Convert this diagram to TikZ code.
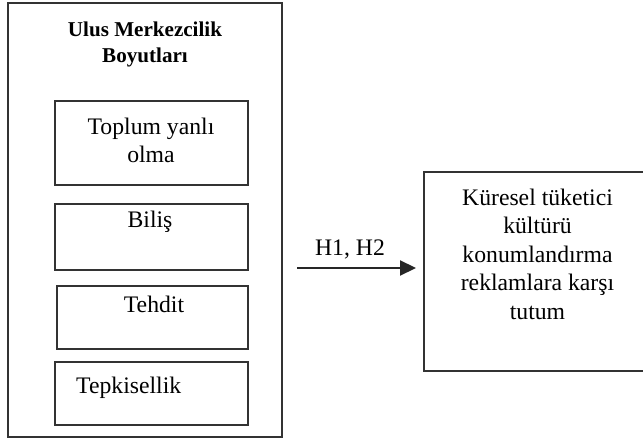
\documentclass[tikz,border=0pt]{standalone}
\usepackage{fontspec}
\setmainfont{Liberation Serif}
\usetikzlibrary{arrows.meta}
\begin{document}
\begin{tikzpicture}[x=1pt,y=-1pt,
  box/.style={draw=black!80,line width=1.5pt},
  txt/.style={font=\fontsize{23.7}{28.5}\selectfont,inner sep=0pt,anchor=base},
  ttl/.style={font=\fontsize{21.1}{26}\selectfont\bfseries,inner sep=0pt,anchor=base}]
\useasboundingbox (0,0) rectangle (643,441);
\fill[white] (0,0) rectangle (643,441);
% outer box
\draw[box] (8,3) rectangle (282,437);
\node[ttl] (title1) at (145,37) {Ulus Merkezcilik};
\node[ttl] (title2) at (145,63) {Boyutları};
% inner boxes
\draw[box] (55,101) rectangle (248,185);
\node[txt] (t1a) at (151,135) {Toplum yanlı};
\node[txt] (t1b) at (151,163) {olma};
\draw[box] (55,204) rectangle (248,270);
\node[txt] (t2) at (150,227) {Biliş};
\draw[box] (57,286) rectangle (248,349);
\node[txt] (t3) at (154,312) {Tehdit};
\draw[box] (55,362) rectangle (248,425);
\node[txt,anchor=base west] (t4) at (76,393) {Tepkisellik};
% right box (its right side runs past the picture)
\draw[box] (424,172) rectangle (652,371);
\node[txt] (r1) at (537.5,205) {Küresel tüketici};
\node[txt] (r2) at (537.5,233.5) {kültürü};
\node[txt] (r3) at (537.5,262) {konumlandırma};
\node[txt] (r4) at (537.5,290.5) {reklamlara karşı};
\node[txt] (r5) at (537.5,319) {tutum};
% arrow
\coordinate (a1) at (297,268);
\coordinate (a2) at (416,268);
\draw[line width=2.2pt,black!85,-{Triangle[length=16pt,width=15pt]}] (a1) -- (a2);
\node[txt] (h) at (350,255) {H1, H2};
\end{tikzpicture}
\end{document}
